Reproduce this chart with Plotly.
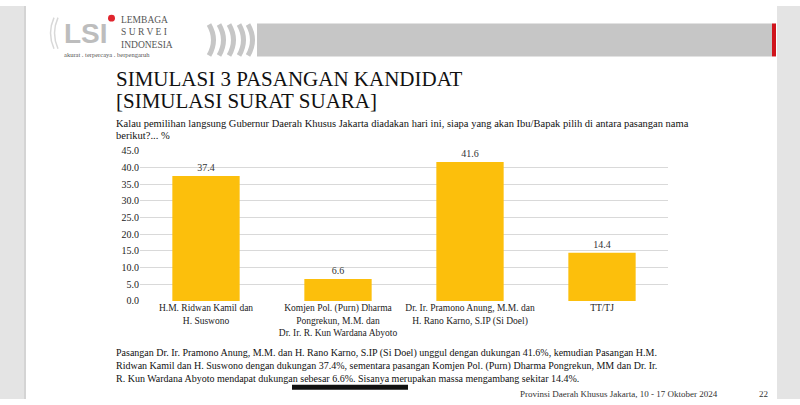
import plotly.graph_objects as go

# ---- data ----
categories = [
    "H.M. Ridwan Kamil dan<br>H. Suswono",
    "Komjen Pol. (Purn) Dharma<br>Pongrekun, M.M. dan<br>Dr. Ir. R. Kun Wardana Abyoto",
    "Dr. Ir. Pramono Anung, M.M. dan<br>H. Rano Karno, S.IP (Si Doel)",
    "TT/TJ",
]
values = [37.4, 6.6, 41.6, 14.4]
y_ticks = [0, 5, 10, 15, 20, 25, 30, 35, 40, 45]
y_tick_labels = ["0.0", "5.0", "10.0", "15.0", "20.0", "25.0", "30.0", "35.0", "40.0", "45.0"]

W, H = 800, 405
SERIF = "'Liberation Serif', 'DejaVu Serif', serif"
BAR = "#FCBF0C"


def px(x):
    return x / W


def py(y):
    return (H - y) / H


fig = go.Figure()
fig.add_trace(go.Bar(
    x=categories, y=values, marker_color=BAR, marker_line_width=0,
    text=[f"{v:.1f}" for v in values], textposition="outside",
    textfont=dict(family=SERIF, size=10, color="#333333"),
    cliponaxis=False, hoverinfo="skip",
))

shapes = []
# background strips (photo of slide)
shapes.append(dict(type="rect", xref="paper", yref="paper", x0=0, x1=px(26), y0=0, y1=1,
                   fillcolor="#E4E4E4", line_width=0, layer="below"))
shapes.append(dict(type="rect", xref="paper", yref="paper", x0=px(777), x1=1, y0=0, y1=1,
                   fillcolor="#E4E4E4", line_width=0, layer="below"))
shapes.append(dict(type="line", xref="paper", yref="paper", x0=px(25), x1=px(25), y0=0, y1=1,
                   line=dict(color="#D4D4D4", width=2)))
# top gray banner
shapes.append(dict(type="rect", xref="paper", yref="paper", x0=px(257), x1=px(772), y0=py(52), y1=py(18),
                   fillcolor="#C6C6C6", line_width=0))
shapes.append(dict(type="rect", xref="paper", yref="paper", x0=px(772), x1=px(776), y0=py(52), y1=py(18),
                   fillcolor="#D0141C", line_width=0))
for x0 in [209, 219, 229, 239, 248]:
    xa, ya, yb = x0, 19, 51
    path = f"M {px(xa)},{py(ya)} Q {px(xa + 9)},{py((ya + yb) / 2)} {px(xa)},{py(yb)}"
    shapes.append(dict(type="path", xref="paper", yref="paper", path=path,
                       line=dict(color="#C6C6C6", width=5)))
# logo graphic approximations
for x0 in [50, 54]:
    path = f"M {px(x0 + 4)},{py(12)} Q {px(x0 - 3)},{py(28)} {px(x0 + 4)},{py(44)}"
    shapes.append(dict(type="path", xref="paper", yref="paper", path=path,
                       line=dict(color="#D8D8D8", width=1.5)))
shapes.append(dict(type="circle", xref="paper", yref="paper", x0=px(108), x1=px(115), y0=py(16), y1=py(9),
                   fillcolor="#E0252E", line_width=0))
# scroll indicator
shapes.append(dict(type="line", xref="paper", yref="paper", x0=px(292), x1=px(408), y0=py(393), y1=py(393),
                   line=dict(color="#111111", width=5)))

annotations = []


def txt(x, y, s, size, color="#111111", family=SERIF, xanchor="left", yanchor="middle", align="left"):
    annotations.append(dict(xref="paper", yref="paper", x=px(x), y=py(y), text=s, showarrow=False,
                            xanchor=xanchor, yanchor=yanchor, align=align,
                            font=dict(family=family, size=size, color=color)))


# logo text
txt(62, 28, "<b>LSI</b>", 28, color="#BDBDBD", family="Liberation Sans")
txt(119, 27, "LEMBAGA<br>S U R V E I<br>INDONESIA", 9.5, color="#555555")
txt(62, 50, "akurat . terpercaya . berpengaruh", 6.5, color="#555555")
# titles
txt(114, 75, "SIMULASI 3 PASANGAN KANDIDAT", 21)
txt(114, 98, "[SIMULASI SURAT SUARA]", 21)
txt(114, 121, "Kalau pemilihan langsung Gubernur Daerah Khusus Jakarta diadakan hari ini, siapa yang akan Ibu/Bapak pilih di antara pasangan nama", 10.5)
txt(114, 133, "berikut?... %", 10.5)
# bottom note
txt(114, 358, "Pasangan Dr. Ir. Pramono Anung, M.M. dan H. Rano Karno, S.IP (Si Doel) unggul dengan dukungan 41.6%, kemudian Pasangan H.M.", 10)
txt(114, 371, "Ridwan Kamil dan H. Suswono dengan dukungan 37.4%, sementara pasangan Komjen Pol. (Purn) Dharma Pongrekun, MM dan Dr. Ir.", 10)
txt(114, 384, "R. Kun Wardana Abyoto mendapat dukungan sebesar 6.6%. Sisanya merupakan massa mengambang sekitar 14.4%.", 10)
txt(720, 400, "Provinsi Daerah Khusus Jakarta, 10 - 17 Oktober 2024", 9, color="#333333", xanchor="right")
txt(770, 400, "22", 9, color="#333333", xanchor="right")

fig.update_layout(
    width=W, height=H,
    margin=dict(l=0, r=0, t=0, b=0),
    paper_bgcolor="white", plot_bgcolor="white",
    showlegend=False,
    bargap=0.49,
    shapes=shapes, annotations=annotations,
    xaxis=dict(domain=[px(140), px(668)], showline=False, showgrid=False, ticks="",
               tickfont=dict(family=SERIF, size=9.5, color="#222222"), fixedrange=True),
    yaxis=dict(domain=[py(304), py(149)], range=[0, 45], tickvals=y_ticks, ticktext=y_tick_labels,
               showline=False, gridcolor="#D9D9D9", gridwidth=1, zeroline=False, ticks="",
               tickfont=dict(family=SERIF, size=10, color="#222222"), fixedrange=True),
)

fig.write_html("out.html", config={"displayModeBar": False},
               post_script="document.body.style.margin='0';document.body.style.overflow='hidden';")
